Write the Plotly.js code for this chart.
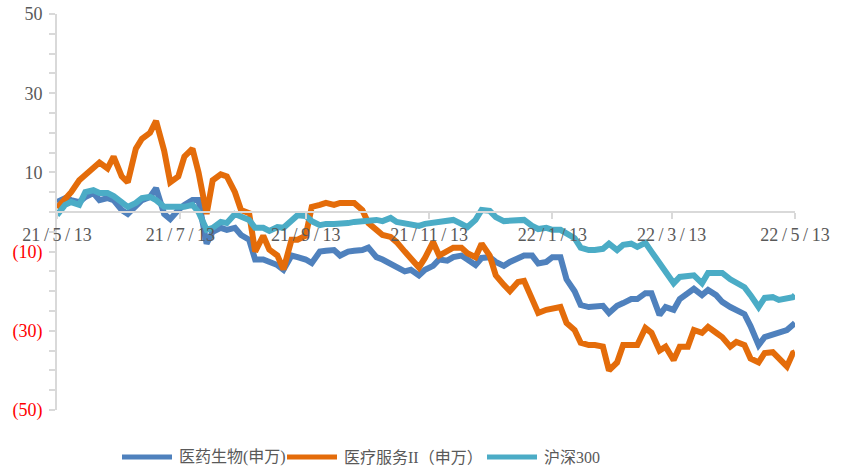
<!DOCTYPE html>
<html><head><meta charset="utf-8">
<script src="https://cdn.plot.ly/plotly-3.0.1.min.js"></script>
<style>html,body{margin:0;padding:0;background:#fff}#chart{width:841px;height:470px}</style>
</head><body><div id="chart"></div>
<script>
const dates = [
'2021-05-13','2021-05-17','2021-05-20','2021-05-24','2021-05-27','2021-05-31',
'2021-06-03','2021-06-07','2021-06-10','2021-06-14','2021-06-17','2021-06-21','2021-06-24','2021-06-28',
'2021-07-01','2021-07-05','2021-07-08','2021-07-12','2021-07-15','2021-07-19','2021-07-22','2021-07-26','2021-07-29',
'2021-08-02','2021-08-05','2021-08-09','2021-08-12','2021-08-16','2021-08-19','2021-08-23','2021-08-26','2021-08-30',
'2021-09-02','2021-09-06','2021-09-09','2021-09-13','2021-09-16','2021-09-20','2021-09-23','2021-09-27','2021-09-30',
'2021-10-04','2021-10-07','2021-10-11','2021-10-14','2021-10-18','2021-10-21','2021-10-25','2021-10-28',
'2021-11-01','2021-11-04','2021-11-08','2021-11-11','2021-11-15','2021-11-18','2021-11-22','2021-11-25','2021-11-29',
'2021-12-02','2021-12-06','2021-12-09','2021-12-13','2021-12-16','2021-12-20','2021-12-23','2021-12-27','2021-12-30',
'2022-01-03','2022-01-06','2022-01-10','2022-01-13','2022-01-17','2022-01-20','2022-01-24','2022-01-27','2022-01-31',
'2022-02-03','2022-02-07','2022-02-10','2022-02-14','2022-02-17','2022-02-21','2022-02-24','2022-02-28',
'2022-03-03','2022-03-07','2022-03-10','2022-03-14','2022-03-17','2022-03-21','2022-03-24','2022-03-28','2022-03-31',
'2022-04-04','2022-04-07','2022-04-11','2022-04-14','2022-04-18','2022-04-21','2022-04-25','2022-04-28',
'2022-05-02','2022-05-05','2022-05-09','2022-05-12','2022-05-13'];

// 医药生物(申万)
const yiyao = [
2.5,3.5,3,2.5,3.8,4.8,
3,3.5,3,0.5,-0.5,1.8,3,3.8,
6,-0.5,-1.8,0.5,1.8,3,3,-8,-5,
-4,-4.5,-4,-5.8,-7,-12,-12,-12.6,-13.4,
-14.6,-11,-11.4,-12,-12.9,-10,-9.8,-9.6,-11,
-10,-9.8,-9.6,-9,-11.4,-12,-13,-13.6,
-15,-14.6,-16,-14.6,-13.6,-12,-12.3,-11.4,-11,
-12,-13.4,-11.6,-11.4,-12.6,-13.6,-12.6,-11.6,-11,
-11,-13,-12.6,-11.4,-11.4,-17,-20,-23.5,-24,
-24,-23.7,-25.5,-23.7,-23,-22,-22,-20.5,
-20.5,-26,-24,-24.7,-22,-20.5,-19.4,-21,-19.7,
-21,-22.7,-24,-24.7,-25.8,-28.8,-33.6,-31.6,
-30.8,-30.5,-29.8,-28.5,-28];

// 医疗服务II（申万）
const yiliao = [
1,3,5,8,9.5,11,
12.5,11,14,9,7.5,16,18.5,20,
23,15.5,7.5,9,14,16,10,-0.5,8,
9.5,9,5,0.5,-0.3,-10,-6,-9.5,-11,
-14.5,-7,-7,-6,1.3,1.8,2.3,1.8,2.3,
2.3,2.3,0.5,-2.8,-4.5,-5.8,-6.3,-7.6,
-10,-11.6,-14,-11.6,-7.6,-11,-10,-9,-9,
-10.4,-11.4,-8,-11,-16,-18.4,-20,-17.7,-17.4,
-22,-25.5,-24.7,-24.5,-24,-28,-29.8,-33,-33.6,
-33.6,-34,-40,-38,-33.6,-33.6,-33.6,-29.3,
-30.5,-35,-34,-37.4,-34,-34,-29.8,-30.5,-29,
-30.5,-31.6,-34,-32.8,-33.6,-37,-38,-35.6,
-35.4,-37,-39,-35.6,-35.4];

// 沪深300
const hs300 = [
-0.8,1.8,2.5,1.8,5,5.5,
4.8,4.8,4,2.3,1.3,2.3,3.5,3.8,
3,1.3,1.3,1.3,1.3,1.8,0,-4.5,-4,
-2.5,-2.8,-0.5,-1.3,-2,-4,-4,-4.8,-3.8,
-4,-2,-0.8,-1,-2.3,-3.3,-3,-3,-3,
-2.8,-2.5,-2.3,-2.5,-2,-2.3,-1.5,-2.5,
-3,-3.3,-3.5,-3,-2.8,-2.5,-2.3,-2,-3,
-3.8,-2,0.5,0.3,-1.3,-2.3,-2.3,-2.3,-2,
-3.5,-4.3,-4,-4.5,-4.5,-5.3,-6.6,-9,-9.6,
-9.6,-9.3,-8,-9.6,-8.3,-8,-8.8,-7.8,
-10,-13,-15,-18,-16.4,-16,-16,-18,-15.4,
-15.4,-15.4,-17,-18,-19,-21,-24,-21.7,
-21.5,-22.2,-22,-21.5,-21];

const seriesNames = ['医药生物(申万)','医疗服务II（申万）','沪深300'];
const seriesColors = ['#4F81BD','#E46C0A','#4BACC6'];

const xTickVals = ['2021-05-13','2021-07-13','2021-09-13','2021-11-13','2022-01-13','2022-03-13','2022-05-13'];
const xTickText = ['21/5/13','21/7/13','21/9/13','21/11/13','22/1/13','22/3/13','22/5/13'];
const yTickVals = [50,30,10,-10,-30,-50];
const yTickText = ['50','30','10','(10)','(30)','(50)'];

const sp = '\u2009';
const xText = xTickText.map(t => t.split('/').join(sp + '/' + sp));
const yText = yTickText.map((t, i) => yTickVals[i] < 0 ? '<span style="color:#FF0000">' + t + '</span>' : t);

const values = [yiyao, yiliao, hs300];
const traces = values.map((v, i) => ({
  type: 'scatter', mode: 'lines', x: dates, y: v, name: seriesNames[i],
  line: {color: seriesColors[i], width: 6}
}));

// legend drawn in the bottom margin (pixel layout -> paper fractions)
const W = 841, H = 470, M = {l: 57, r: 46, t: 14, b: 60};
const pw = W - M.l - M.r, ph = H - M.t - M.b;
const px = x => (x - M.l) / pw;
const py = y => (H - M.b - y) / ph;
const legLineX = [122, 287, 487];
const legY = 457;
const shapes = legLineX.map((x0, i) => ({
  type: 'line', xref: 'paper', yref: 'paper',
  x0: px(x0), x1: px(x0 + 50), y0: py(legY), y1: py(legY),
  line: {color: seriesColors[i], width: 5}
}));
const annotations = legLineX.map((x0, i) => ({
  xref: 'paper', yref: 'paper', x: px(x0 + 55), y: py(legY),
  xanchor: 'left', yanchor: 'middle', showarrow: false,
  text: seriesNames[i], font: {size: 16, color: '#595959'}
}));

const layout = {
  width: W, height: H,
  margin: {l: M.l, r: M.r, t: M.t, b: M.b, autoexpand: false},
  paper_bgcolor: '#fff', plot_bgcolor: '#fff',
  font: {family: '"Liberation Serif", "Noto Sans CJK SC", serif', color: '#595959', size: 18},
  showlegend: false,
  shapes: shapes, annotations: annotations,
  xaxis: {
    type: 'date', range: ['2021-05-13', '2022-05-13'],
    anchor: 'free', position: 0.5,
    showgrid: false, zeroline: false,
    showline: true, linecolor: '#D9D9D9', linewidth: 2,
    ticks: 'outside', ticklen: 6, tickcolor: '#D9D9D9', tickwidth: 2,
    tickmode: 'array', tickvals: xTickVals, ticktext: xText,
    ticklabelstandoff: 0,
    tickfont: {size: 18, color: '#595959'}
  },
  yaxis: {
    range: [-50, 50], showgrid: false, zeroline: false,
    showline: true, linecolor: '#D9D9D9', linewidth: 2,
    ticks: 'outside', ticklen: 6, tickcolor: '#D9D9D9', tickwidth: 2,
    tickmode: 'array', tickvals: yTickVals, ticktext: yText,
    ticklabelstandoff: 3,
    tickfont: {size: 18, color: '#595959'},
    minor: {tickmode: 'linear', tick0: 0, dtick: 5, ticks: 'outside', ticklen: 6, tickcolor: '#D9D9D9', tickwidth: 2}
  }
};

Plotly.newPlot('chart', traces, layout, {staticPlot: true, displayModeBar: false});
</script>
</body></html>
